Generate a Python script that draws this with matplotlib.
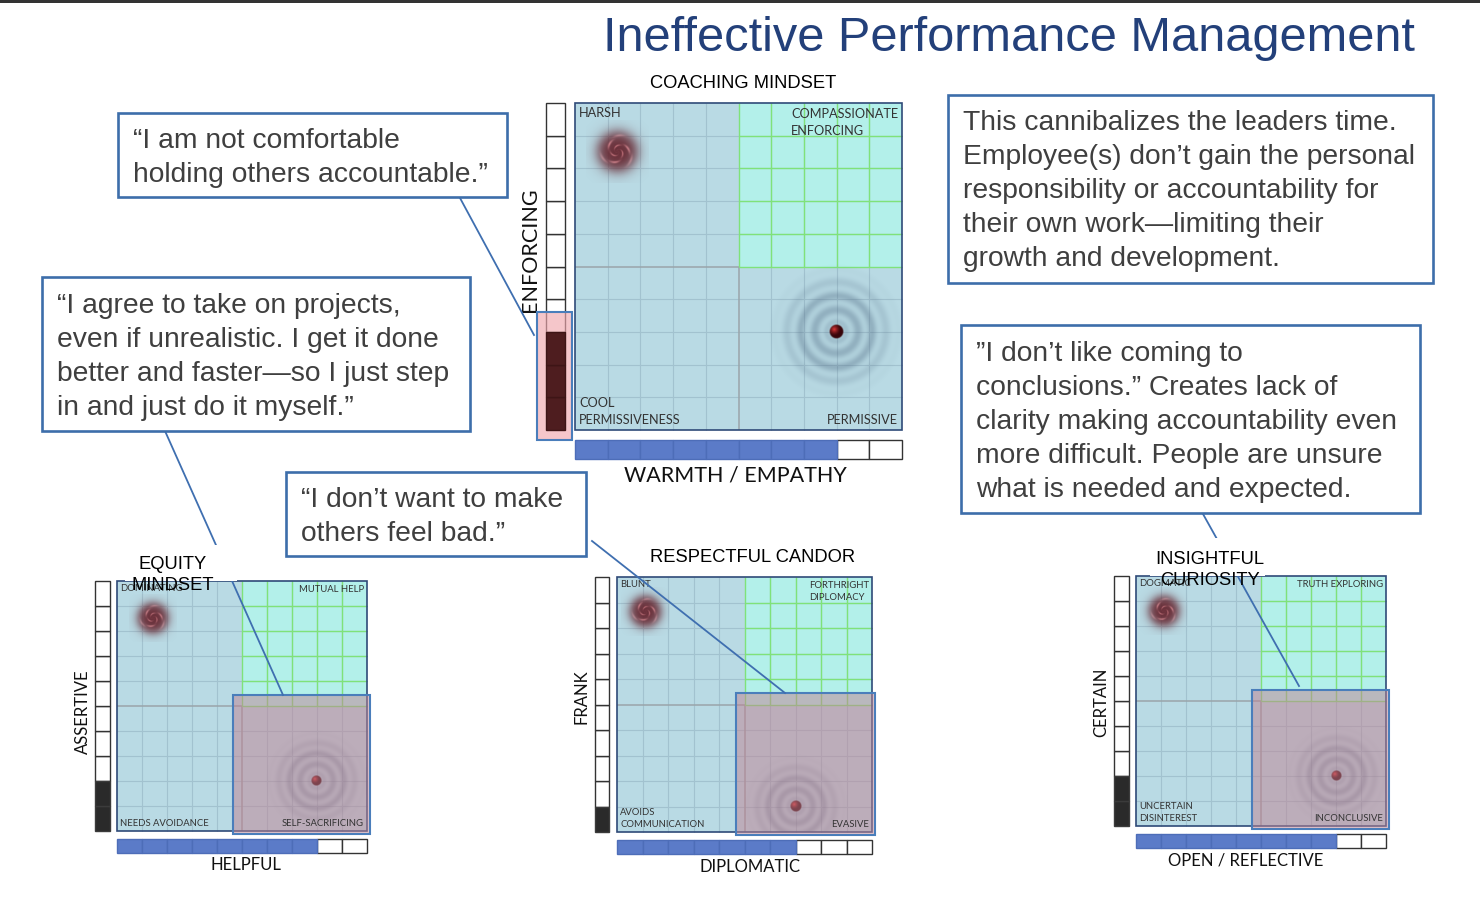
import numpy as np
import matplotlib
matplotlib.use("Agg")
import matplotlib.pyplot as plt
from matplotlib.patches import Rectangle

W, H = 1480, 898

# ---------------- data ----------------
page_title = "Ineffective Performance Management"
panel_titles = ["COACHING MINDSET", "EQUITY\nMINDSET", "RESPECTFUL CANDOR", "INSIGHTFUL\nCURIOSITY"]
y_axis_labels = ["ENFORCING", "ASSERTIVE", "FRANK", "CERTAIN"]
x_axis_labels = ["WARMTH / EMPATHY", "HELPFUL", "DIPLOMATIC", "OPEN / REFLECTIVE"]
labels_top_left = ["HARSH", "DOMINATING", "BLUNT", "DOGMATIC"]
labels_top_right = ["COMPASSIONATE\nENFORCING", "MUTUAL HELP", "FORTHRIGHT\nDIPLOMACY", "TRUTH EXPLORING"]
labels_bottom_left = ["COOL\nPERMISSIVENESS", "NEEDS AVOIDANCE", "AVOIDS\nCOMMUNICATION", "UNCERTAIN\nDISINTEREST"]
labels_bottom_right = ["PERMISSIVE", "SELF-SACRIFICING", "EVASIVE", "INCONCLUSIVE"]
y_scores = [3, 2, 1, 2]
x_scores = [8, 8, 7, 8]
spiral_x = [1.3, 1.45, 1.1, 1.1]
spiral_y = [8.5, 8.5, 8.65, 8.6]
n_cells = 10

callouts = [
    "\u201cI am not comfortable\nholding others accountable.\u201d",
    "\u201cI agree to take on projects,\neven if unrealistic. I get it done\nbetter and faster\u2014so I just step\nin and just do it myself.\u201d",
    "\u201cI don\u2019t want to make\nothers feel bad.\u201d",
    "This cannibalizes the leaders time.\nEmployee(s) don\u2019t gain the personal\nresponsibility or accountability for\ntheir own work\u2014limiting their\ngrowth and development.",
    "\u201dI don\u2019t like coming to\nconclusions.\u201d Creates lack of\nclarity making accountability even\nmore difficult. People are unsure\nwhat is needed and expected.",
]

# ---------------- layout (pixels) ----------------
panel_boxes = [(575, 103, 327), (117, 581, 250), (617, 577, 255), (1136, 576, 250)]
ylab_pos = [5.5, 4.76, 5.3, 4.96]
xlab_pos = [4.9, 5.16, 5.2, 4.4]
title_px = [(743, 84), (173, 575), (753, 557), (1210, 570)]
callout_boxes = [(118, 113, 507, 197), (42, 277, 470, 431), (286, 472, 586, 556),
                 (948, 95, 1433, 283), (961, 325, 1420, 513)]
callout_text_x = [133, 57, 301, 963, 976]
callout_first_baseline = [148, 313, 507, 130, 361]
connectors = [((460, 198), (534, 335)), ((165, 431), (283, 695)),
              ((592, 541), (785, 693)), ((1203, 514), (1299, 686))]
masks = [(125, 545, 237, 580.5), (1150, 538, 1265, 575.5)]

BLUE = "#B9DAE4"
AQUA = "#B3F0EA"
GRID_BLUE = "#A2C2CF"
GRID_GREEN = "#7FE27A"
MID_GRAY = "#9AA4AA"
BAR_BLUE = "#5B7BC8"
EDGE_BLUE = "#4A7EBB"
BOX_BLUE = "#3D6EAA"
TXT = "#3F3F3F"
LBL_FONT = ["Lato", "DejaVu Sans"]
PPT_FONT = ["Liberation Sans", "DejaVu Sans"]


def spiral_rgba(n=181):
    t = np.linspace(-1, 1, n)
    X, Y = np.meshgrid(t, t)
    r = np.hypot(X, Y)
    th = np.arctan2(Y, X)
    base = np.array([0.40, 0.15, 0.19])
    pink = np.array([0.95, 0.55, 0.58])
    arms = (0.5 + 0.5 * np.cos(3 * th + 8 * np.log(r + 0.06))) ** 6
    dash = 0.55 + 0.45 * np.cos(36 * r)
    arms = arms * dash * np.clip((0.66 - r) / 0.2, 0, 1) * np.clip(r / 0.1, 0, 1)
    a = arms[..., None] * 0.75
    rgb = base * (1 - a) + pink * a
    alpha = 0.95 / (1 + np.exp((r - 0.62) / 0.12))
    return np.dstack([rgb, alpha])


def rings_rgba(n=301, ext=2.3):
    t = np.linspace(-ext, ext, n)
    X, Y = np.meshgrid(t, t)
    r = np.hypot(X, Y)
    env = np.clip((2.1 - r) / 1.0, 0, 1) ** 1.3 * np.clip((r - 0.1) / 0.25, 0, 1)
    ring = 0.5 + 0.5 * np.cos(2 * np.pi * (r - 0.22) / 0.44)
    alpha = env * (0.10 + 0.26 * ring)
    rgb = np.ones(r.shape + (3,)) * np.array([0.30, 0.40, 0.50])
    return np.dstack([rgb, alpha])


def dot_rgba(n=61):
    t = np.linspace(-1, 1, n)
    X, Y = np.meshgrid(t, t)
    r = np.hypot(X, Y)
    d = np.hypot(X + 0.3, Y - 0.3)
    light = np.clip(1 - d / 0.9, 0, 1) ** 1.5
    dark = np.array([0.22, 0.02, 0.04])
    hi = np.array([0.88, 0.22, 0.22])
    rgb = dark + (hi - dark) * light[..., None]
    alpha = np.clip((1 - r) / 0.15, 0, 1)
    return np.dstack([rgb, alpha])


fig = plt.figure(figsize=(W / 100, H / 100), dpi=100)
fig.patch.set_facecolor("white")

X0, X1, Y0, Y1 = -2.0, 10.6, -2.0, 10.6
SPR = 0.95
DOTR = 0.22

for i in range(4):
    gl, gt, size = panel_boxes[i]
    cell = size / n_cells
    left = gl + X0 * cell
    bottom_px = gt + size - Y0 * cell
    ax = fig.add_axes([left / W, (H - bottom_px) / H, (X1 - X0) * cell / W, (Y1 - Y0) * cell / H])
    ax.axis("off")
    ax.patch.set_alpha(0)

    half = n_cells / 2
    ax.add_patch(Rectangle((0, 0), n_cells, n_cells, facecolor=BLUE, edgecolor="none", zorder=1))
    ax.add_patch(Rectangle((half, half), half, half, facecolor=AQUA, edgecolor="none", zorder=1))
    for k in range(1, n_cells):
        if k == half:
            continue
        ax.hlines(k, 0, n_cells, color=GRID_BLUE, lw=0.8, zorder=2)
        ax.vlines(k, 0, n_cells, color=GRID_BLUE, lw=0.8, zorder=2)
    ax.hlines(half, 0, half, color=MID_GRAY, lw=1.1, zorder=2)
    ax.vlines(half, 0, half, color=MID_GRAY, lw=1.1, zorder=2)
    for k in range(int(half), n_cells):
        ax.hlines(k, half, n_cells, color=GRID_GREEN, lw=1.0, zorder=2.2)
        ax.vlines(k, half, n_cells, color=GRID_GREEN, lw=1.0, zorder=2.2)
    clip = Rectangle((0, 0), n_cells, n_cells, transform=ax.transData, facecolor="none", edgecolor="none")

    # target
    tx, ty = x_scores[i], y_scores[i]
    im = ax.imshow(rings_rgba(), extent=[tx - 2.3, tx + 2.3, ty - 2.3, ty + 2.3], origin="lower",
                   interpolation="bilinear", aspect="auto", zorder=3)
    im.set_clip_path(clip)
    ax.imshow(dot_rgba(), extent=[tx - DOTR, tx + DOTR, ty - DOTR, ty + DOTR], origin="lower",
              interpolation="bilinear", aspect="auto", zorder=3.5)
    # spiral
    sx, sy = spiral_x[i], spiral_y[i]
    ax.imshow(spiral_rgba(), extent=[sx - SPR, sx + SPR, sy - SPR, sy + SPR], origin="lower",
              interpolation="bilinear", aspect="auto", zorder=3.5)

    ax.add_patch(Rectangle((0, 0), n_cells, n_cells, facecolor="none", edgecolor="#2F4A78", lw=1.2, zorder=4))

    # quadrant labels
    fs = 9.2 if i == 0 else 6.8
    ls = 1.5 if i == 0 else 1.4
    ax.text(0.12, 9.88, labels_top_left[i], ha="left", va="top", fontsize=fs, color="#333333",
            family=LBL_FONT, zorder=6)
    ax.text(9.88, 9.85, labels_top_right[i], ha="right", va="top", multialignment="left", fontsize=fs,
            color="#333333", family=LBL_FONT, zorder=6, linespacing=ls)
    ax.text(0.12, 0.12, labels_bottom_left[i], ha="left", va="bottom", fontsize=fs, color="#333333",
            family=LBL_FONT, zorder=6, linespacing=ls)
    ax.text(9.88, 0.12, labels_bottom_right[i], ha="right", va="bottom", fontsize=fs, color="#333333",
            family=LBL_FONT, zorder=6)

    # scale bars
    idx = np.arange(n_cells)
    ycol_fill = "#4E1D1F" if i == 0 else "#2A2A2A"
    yfill = idx < y_scores[i]
    ax.bar(np.full(n_cells, -0.59)[~yfill], 1, bottom=idx[~yfill], width=0.58, color="white",
           edgecolor="#333333", lw=1.0, zorder=3)
    ax.bar(np.full(n_cells, -0.59)[yfill], 1, bottom=idx[yfill], width=0.58, color=ycol_fill,
           edgecolor="#3B3B3B" if i else "#3E1516", lw=1.0, zorder=5)
    xfill = idx < x_scores[i]
    ax.barh(np.full(n_cells, -0.59)[~xfill], 1, left=idx[~xfill], height=0.58, color="white",
            edgecolor="#333333", lw=1.0, zorder=3)
    ax.barh(np.full(n_cells, -0.59)[xfill], 1, left=idx[xfill], height=0.58, color=BAR_BLUE,
            edgecolor="#4D6DB8", lw=1.0, zorder=3)

    # highlights
    if i == 0:
        ax.add_patch(Rectangle((-1.16, -0.31), 1.07, y_scores[i] + 0.6 + 0.31, facecolor="#F0A8AE",
                               alpha=0.65, edgecolor="none", zorder=4))
        ax.add_patch(Rectangle((-1.16, -0.31), 1.07, y_scores[i] + 0.6 + 0.31, facecolor="none",
                               edgecolor=EDGE_BLUE, lw=1.5, zorder=4.5))
    else:
        ax.add_patch(Rectangle((4.65, -0.1), 5.47, 5.55, facecolor="#C08292", alpha=0.5,
                               edgecolor="none", zorder=4.2))
        ax.add_patch(Rectangle((4.65, -0.1), 5.47, 5.55, facecolor="none",
                               edgecolor=EDGE_BLUE, lw=1.5, zorder=4.6))

    # axis labels
    afs = 15.5 if i == 0 else 12
    ax.text(-1.38, ylab_pos[i], y_axis_labels[i], rotation=90, ha="center", va="center",
            fontsize=afs, color="#111111", family=LBL_FONT)
    ax.text(xlab_pos[i], -1.38, x_axis_labels[i], ha="center", va="center",
            fontsize=afs, color="#111111", family=LBL_FONT)

    ax.set_xlim(X0, X1)
    ax.set_ylim(Y0, Y1)

# ---------------- overlay ----------------
ov = fig.add_axes([0, 0, 1, 1])
ov.set_zorder(10)
ov.set_xlim(0, W)
ov.set_ylim(H, 0)
ov.axis("off")
ov.patch.set_alpha(0)

ov.add_patch(Rectangle((0, 0), W, 2.5, facecolor="#333333", edgecolor="none", zorder=1))
ov.text(1415, 51, page_title, ha="right", va="baseline", fontsize=35.1, color="#23407A", family=PPT_FONT)

for (p0, p1) in connectors:
    ov.plot([p0[0], p1[0]], [p0[1], p1[1]], color="#3F6FB0", lw=1.3, zorder=2)
for (x0, y0, x1, y1) in masks:
    ov.add_patch(Rectangle((x0, y0), x1 - x0, y1 - y0, facecolor="white", edgecolor="none", zorder=3))

for i, (tx, ty) in enumerate(title_px):
    ov.text(tx, ty, panel_titles[i], ha="center", va="center", multialignment="center",
            fontsize=13.2, color="black", family=PPT_FONT, zorder=4, linespacing=1.3)

for j, txt in enumerate(callouts):
    x0, y0, x1, y1 = callout_boxes[j]
    ov.add_patch(Rectangle((x0, y0), x1 - x0, y1 - y0, facecolor="white", edgecolor=BOX_BLUE,
                           lw=1.9, zorder=5))
    for k, line in enumerate(txt.split("\n")):
        ov.text(callout_text_x[j], callout_first_baseline[j] + 34 * k, line, ha="left", va="baseline",
                fontsize=20.3, color=TXT, family=PPT_FONT, zorder=6)

fig.savefig("out.png", dpi=100, facecolor="white")
